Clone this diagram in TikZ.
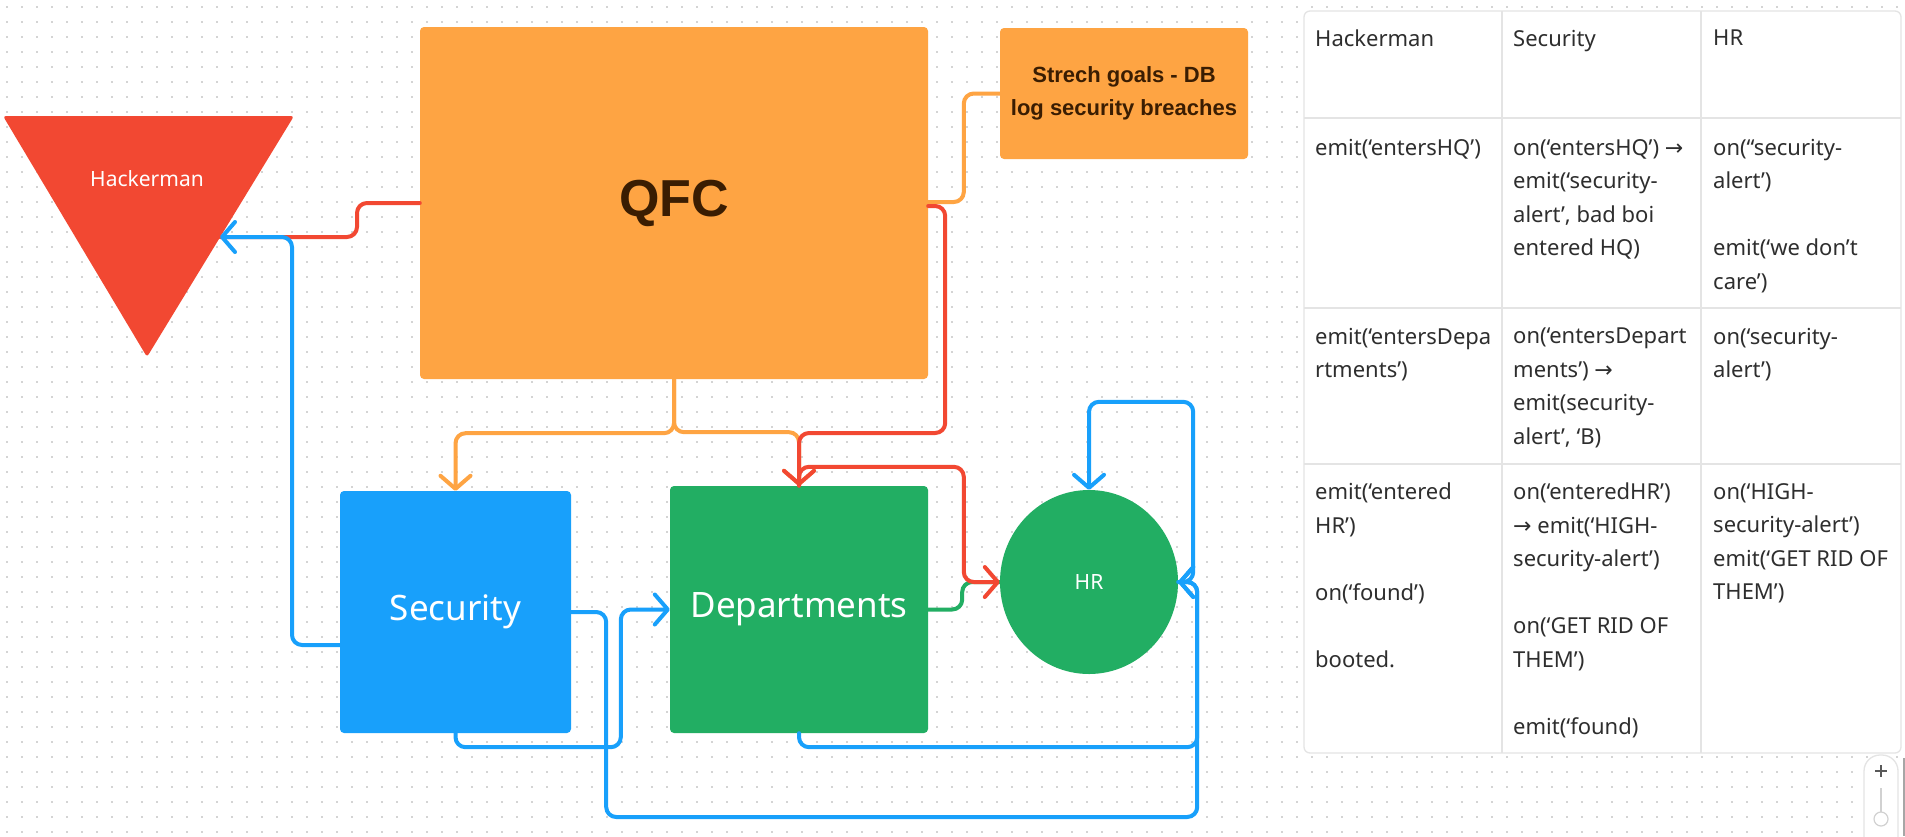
\documentclass[tikz,border=0pt]{standalone}
\usepackage{fontspec}
\setmainfont{Noto Sans}
\newfontfamily\arrowfont{DejaVu Sans}
\newfontfamily\qbold{Liberation Sans}
\usetikzlibrary{arrows.meta,calc,shapes.geometric}
\definecolor{qorange}{HTML}{FEA443}
\definecolor{qred}{HTML}{F24832}
\definecolor{qblue}{HTML}{18A0FB}
\definecolor{qgreen}{HTML}{22AE63}
\definecolor{qbrown}{HTML}{3A1D02}
\definecolor{tabtext}{HTML}{2E2E2E}
\definecolor{tabline}{HTML}{E4E4E4}
\definecolor{dotc}{HTML}{D4D4D4}
\newcommand{\myarr}{{\arrowfont →}}
\begin{document}
\begin{tikzpicture}[x=1pt,y=-1pt,
  box/.style={rounded corners=4pt, inner sep=0pt},
  conn/.style={line width=4pt, rounded corners=10pt, line cap=round, line join=round},
  arr/.style={-{Straight Barb[length=13pt,width=30pt,round]}},
  cell/.style={anchor=north west, inner sep=0pt, align=left, font=\fontsize{22pt}{33.5pt}\selectfont, text=tabtext},
  big/.style={text=white, font=\fontsize{35pt}{42pt}\selectfont},
  small/.style={text=white, font=\fontsize{21pt}{25pt}\selectfont}]
\useasboundingbox (0,0) rectangle (1905,836);
\fill[white] (0,0) rectangle (1905,836);
% dot grid
\foreach \i in {0,...,126} {\fill[dotc] \foreach \j in {0,...,55} {(6.2+15*\i, 6.2+15*\j) rectangle ++(1.6,1.6)};}

% shapes
\node[box, fill=qorange, minimum width=508pt, minimum height=352pt,
      text=qbrown, font=\qbold\bfseries\fontsize{52pt}{60pt}\selectfont] (QFC) at (674,203) {QFC};
\node[box, fill=qorange, minimum width=248pt, minimum height=131pt, align=center,
      text=qbrown, font=\qbold\bfseries\fontsize{22pt}{32.5pt}\selectfont] (Strech) at (1124,93.5) {Strech goals - DB\\log security breaches};
\fill[qred, rounded corners=3pt] (3,116) -- (294,116) -- (147,357) -- cycle;
\node[small] (Hackerman) at (147,179) {Hackerman};
\coordinate (hkin) at (220,237);
\node[box, fill=qblue, minimum width=231pt, minimum height=242pt, big] (Security) at (455.5,612) {Security};
\node[box, fill=qgreen, minimum width=258pt, minimum height=247pt, big] (Departments) at (799,609.5) {Departments};
\node[ellipse, fill=qgreen, minimum width=178pt, minimum height=184pt, inner sep=0pt, small] (HR) at (1089,582) {HR};

% connectors
\draw[conn, qorange] ([yshift=1pt]QFC.east) -| ($(Strech.west)+(-36,0)$) -- (Strech.west);
\draw[conn, qred] (QFC.west) -| ($(hkin)+(137,0)$) -- (hkin);
\draw[conn, qblue, arr] ([yshift=-33pt]Security.west) -| ($(hkin)+(72,0)$) -- (hkin);
\draw[conn, qorange, arr] (QFC.south) -- ++(0,54) -| (Security.north);
\draw[conn, qorange, arr] (QFC.south) -- ++(0,53) -| (Departments.north);
\draw[conn, qred, arr] ([yshift=-3pt]QFC.east) -| ($(QFC.east)+(17,230)$) -| (Departments.north);
\draw[conn, qgreen] (Departments.east) -- ++(34,0) |- (HR.west);
\draw[conn, qred, arr] (Departments.north) -- ++(0,-19) -| ($(HR.west)+(-36,0)$) -- (HR.west);
\draw[conn, qblue, arr] (Security.south) -- ++(0,14) -| ($(Departments.west)+(-49,0)$) -- (Departments.west);
\draw[conn, qblue, arr] (Security.east) -- ++(35,0) |- ($(HR.east)+(19,235)$) |- (HR.east);
\draw[conn, qblue, arr] (Departments.south) -- ++(0,14) -| ($(HR.east)+(19,0)$) -- (HR.east);
\draw[conn, qblue, arr] (HR.east) -- ++(15,0) |- ($(HR.north)+(0,-88)$) -- (HR.north);

% table
\draw[tabline, line width=1.3pt, fill=white, rounded corners=6pt] (1304,11) rectangle (1901,753);
\draw[tabline, line width=1.3pt] (1502,11) -- (1502,753) (1701,11) -- (1701,753)
  (1304,118) -- (1901,118) (1304,308) -- (1901,308) (1304,464) -- (1901,464);

\node[cell] (c11) at (1315,30) {Hackerman};
\node[cell] (c12) at (1513,30) {Security};
\node[cell] (c13) at (1713,30) {HR};

\node[cell] (c21) at (1315,139) {emit(‘entersHQ’)};
\node[cell] (c22) at (1513,139) {on(‘entersHQ’) \myarr\\emit(‘security-\\alert’, bad boi\\entered HQ)};
\node[cell] (c23) at (1713,139) {on(“security-\\alert’)\\[33.5pt]emit(‘we don’t\\care’)};

\node[cell] (c31) at (1315,328) {emit(‘entersDepa\\rtments’)};
\node[cell] (c32) at (1513,328) {on(‘entersDepart\\ments’) \myarr\\emit(security-\\alert’, ‘B)};
\node[cell] (c33) at (1713,328) {on(‘security-\\alert’)};

\node[cell] (c41) at (1315,483) {emit(‘entered\\HR’)\\[33.5pt]on(‘found’)\\[33.5pt]booted.};
\node[cell] (c42) at (1513,483) {on(‘enteredHR’)\\\myarr{} emit(‘HIGH-\\security-alert’)\\[33.5pt]on(‘GET RID OF\\THEM’)\\[33.5pt]emit(‘found)};
\node[cell] (c43) at (1713,483) {on(‘HIGH-\\security-alert’)\\emit(‘GET RID OF\\THEM’)};

% zoom widget
\begin{scope}
\clip (0,0) rectangle (1905,836);
\draw[tabline, line width=1.3pt, fill=white, rounded corners=16pt] (1864,755) rectangle (1898,880);
\draw[black!65, line width=1.3pt] (1875,771) -- (1887,771) (1881,765) -- (1881,777);
\draw[black!18, line width=1.3pt] (1881,788) -- (1881,812);
\node[circle, draw=black!18, line width=1.2pt, fill=white, minimum size=14pt, inner sep=0pt] (zknob) at (1881,819) {};
\fill[black!35] (1902.5,758) rectangle (1905,836);
\end{scope}
\end{tikzpicture}
\end{document}
